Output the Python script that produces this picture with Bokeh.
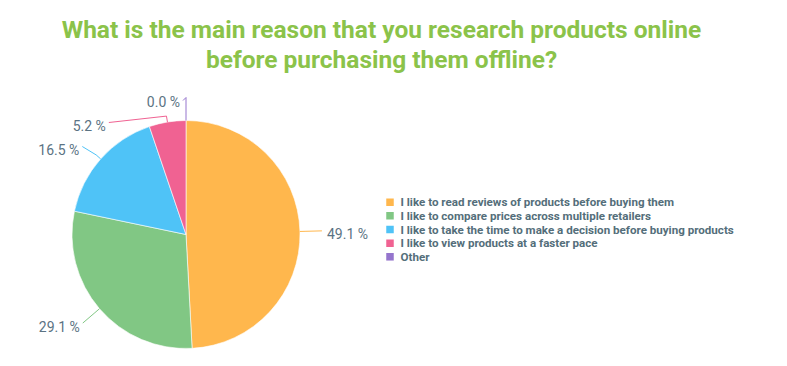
import math
from bokeh.plotting import figure
from bokeh.models import Range1d, Label
from bokeh.core.properties import value
from bokeh.embed import file_html
from bokeh.resources import INLINE

# ---- data ----
title_lines = ["What is the main reason that you research products online",
               "before purchasing them offline?"]
categories = ["I like to read reviews of products before buying them",
              "I like to compare prices across multiple retailers",
              "I like to take the time to make a decision before buying products",
              "I like to view products at a faster pace",
              "Other"]
percents = [49.1, 29.1, 16.5, 5.2, 0.0]
colors = ["#FFB74D", "#81C784", "#4FC3F7", "#F06292", "#9575CD"]

# ---- layout ----
W, H = 771, 350
CX, CY, R = 185.5, 116.0, 114.0
LABEL_D = 22.0
LABEL_COLOR = "#5B7383"
LEGEND_COLOR = "#546E7A"
FONT = "Roboto"

p = figure(width=W, height=H, output_backend="svg", toolbar_location=None,
           x_range=Range1d(0, W), y_range=Range1d(0, H), min_border=0,
           outline_line_color=None)
p.axis.visible = False
p.grid.visible = False
p.background_fill_color = "white"

total = sum(percents)
starts, ends, mids = [], [], []
acc = 0.0
for v in percents:
    a0 = math.pi / 2 - 2 * math.pi * acc / total
    acc += v
    a1 = math.pi / 2 - 2 * math.pi * acc / total
    starts.append(a1)
    ends.append(a0)
    mids.append((a0 + a1) / 2)

nz = [i for i, v in enumerate(percents) if v > 0]
p.wedge(x=CX, y=CY, radius=R, start_angle=[starts[i] for i in nz],
        end_angle=[ends[i] for i in nz], fill_color=[colors[i] for i in nz],
        line_color="white", line_width=0.6)

# label placement with simple collision avoidance on the left side
ends_pts = []
for m in mids:
    ex = CX + (R + LABEL_D) * math.cos(m)
    ey = CY + (R + LABEL_D) * math.sin(m)
    ends_pts.append([ex, ey])

left_idx = sorted([i for i in range(len(mids)) if math.cos(mids[i]) <= 0.001],
                  key=lambda i: -ends_pts[i][1])
prev_y = None
for i in left_idx:
    ex, ey = ends_pts[i]
    if prev_y is not None and prev_y - ey < 24:
        ey = prev_y - 24
        dy = ey - CY
        ex = CX - math.sqrt(max((R + LABEL_D) ** 2 - dy ** 2, 0))
        ends_pts[i] = [ex, ey]
    prev_y = ends_pts[i][1]

for i, m in enumerate(mids):
    sx = CX + R * math.cos(m)
    sy = CY + R * math.sin(m)
    kx = CX + (R + 6) * math.cos(m)
    ky = CY + (R + 6) * math.sin(m)
    ex, ey = ends_pts[i]
    right = math.cos(m) > 0.001
    top = math.sin(m) > 0.999
    if top:
        # connector bends left at the top
        p.line([sx, ex, ex - 3], [sy, ey + 1, ey - 2], line_color=colors[i],
               line_width=1)
        tx = ex - 6
    else:
        p.line([sx, kx, ex], [sy, ky, ey], line_color=colors[i], line_width=1)
        tx = ex + 5 if right else ex - 3
    p.text(x=[tx], y=[ey - 3.5], text=["%.1f %%" % percents[i]],
           text_align="left" if right else "right", text_baseline="middle",
           text_font=value(FONT), text_font_size="14px",
           text_color=LABEL_COLOR)

# legend
LX, LY0, LSTEP = 386, 148.3, 13.65
for i, c in enumerate(categories):
    y = LY0 - i * LSTEP
    p.rect(x=[LX + 3.5], y=[y], width=7.5, height=7.5, fill_color=colors[i],
           line_color=None)
    p.text(x=[LX + 14], y=[y], text=[c], text_align="left",
           text_baseline="middle", text_font=value(FONT),
           text_font_style="bold", text_font_size="11.6px",
           text_color=LEGEND_COLOR)

# title
for j, t in enumerate(title_lines):
    p.add_layout(Label(x=381, y=321 - 30 * j, text=t, text_align="center",
                       text_baseline="middle", text_font=FONT,
                       text_font_style="bold", text_font_size="24.5px",
                       text_color="#8BC34A"))

open("out.html", "w").write(file_html(p, INLINE))
